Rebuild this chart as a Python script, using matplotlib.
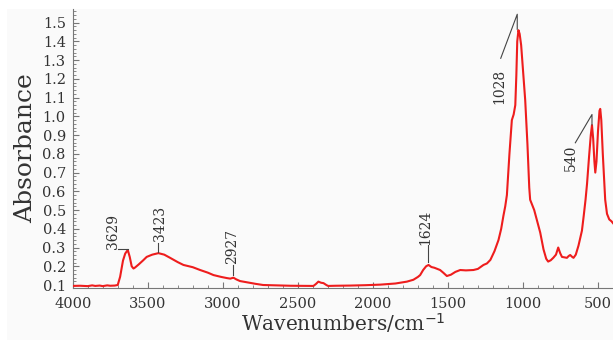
import numpy as np
import matplotlib.pyplot as plt
from matplotlib.patches import Rectangle
from matplotlib.ticker import MultipleLocator

# FTIR spectrum, wavenumber (cm-1) vs absorbance
wavenumber = [4000, 3950, 3900, 3870, 3850, 3820, 3800, 3770, 3750, 3720, 3700,
              3684, 3665, 3650, 3633, 3620, 3607, 3595, 3585, 3560, 3530, 3507,
              3470, 3429, 3390, 3351, 3300, 3262, 3200, 3151, 3100, 3062, 3010,
              2973, 2950, 2929, 2910, 2885, 2830, 2780, 2731, 2650, 2550, 2450,
              2396, 2380, 2363, 2345, 2329, 2310, 2298, 2250, 2150, 2050, 1950,
              1850, 1773, 1730, 1700, 1685, 1665, 1645, 1629, 1610, 1590, 1570,
              1552, 1530, 1507, 1480, 1450, 1418, 1380, 1330, 1300, 1263, 1240,
              1217, 1190, 1163, 1145, 1130, 1118, 1107, 1090, 1074, 1062, 1051,
              1044, 1038, 1030, 1022, 1012, 1000, 985, 970, 958, 952, 940, 925,
              905, 885, 863, 845, 832, 815, 798, 780, 765, 752, 740, 725, 707,
              695, 685, 672, 663, 648, 630, 607, 595, 583, 573, 560, 548, 540,
              532, 524, 518, 510, 500, 490, 485, 478, 468, 452, 440, 425, 410,
              400]
absorbance = [0.095, 0.096, 0.094, 0.098, 0.095, 0.097, 0.094, 0.098, 0.096, 0.097, 0.100,
              0.144, 0.230, 0.268, 0.287, 0.250, 0.200, 0.188, 0.193, 0.210, 0.232, 0.250,
              0.262, 0.270, 0.262, 0.245, 0.222, 0.207, 0.195, 0.180, 0.166, 0.153, 0.143,
              0.137, 0.134, 0.139, 0.130, 0.121, 0.113, 0.106, 0.100, 0.098, 0.096, 0.095,
              0.095, 0.105, 0.118, 0.112, 0.110, 0.100, 0.095, 0.096, 0.097, 0.099, 0.102,
              0.108, 0.118, 0.128, 0.143, 0.153, 0.180, 0.200, 0.207, 0.196, 0.192, 0.186,
              0.180, 0.165, 0.148, 0.155, 0.170, 0.180, 0.178, 0.180, 0.186, 0.207, 0.215,
              0.234, 0.280, 0.340, 0.400, 0.470, 0.520, 0.580, 0.800, 0.980, 1.010, 1.060,
              1.220, 1.400, 1.460, 1.440, 1.380, 1.250, 1.087, 0.850, 0.620, 0.555, 0.530, 0.500,
              0.440, 0.380, 0.290, 0.240, 0.225, 0.232, 0.245, 0.262, 0.300, 0.270, 0.250, 0.248, 0.245,
              0.255, 0.260, 0.250, 0.245, 0.262, 0.310, 0.390, 0.470, 0.555, 0.640, 0.780, 0.900, 0.953,
              0.880, 0.760, 0.700, 0.760, 0.920, 1.030, 1.040, 0.980, 0.800, 0.555, 0.480, 0.450, 0.440,
              0.430]

# peak labels: value, text position (wavenumber, absorbance), leader line path
peak_labels = ["3629", "3423", "2927", "1624", "1028", "540"]
label_pos = [(3731, 0.383), (3417, 0.426), (2940, 0.306), (1651, 0.407), (1158, 1.16), (680, 0.779)]
leaders = [
    ([3697, 3631], [0.293, 0.293]),
    ([3431, 3431], [0.325, 0.277]),
    ([2931, 2931], [0.207, 0.153]),
    ([1631, 1631], [0.314, 0.223]),
    ([1148, 1038, 1038], [1.31, 1.545, 1.465]),
    ([651, 540, 540], [0.859, 1.01, 0.955]),
]

plt.rcParams['font.family'] = 'DejaVu Serif'
text_col = '#333333'
axis_col = '#777777'

fig = plt.figure(figsize=(6.13, 3.40), dpi=100)
fig.patches.append(Rectangle((7 / 613, 0), 1, 1 - 9 / 340, transform=fig.transFigure,
                             facecolor='#fafafa', edgecolor='none', zorder=-10))
ax = fig.add_axes([72.7 / 613, 1 - 287.7 / 340, 1 - 72.7 / 613, (287.7 - 9) / 340])
ax.patch.set_visible(False)

ax.plot(wavenumber, absorbance, color='#ee1d1d', lw=1.5, zorder=3)

for lab, (tx, ty), (lx, ly) in zip(peak_labels, label_pos, leaders):
    ax.text(tx, ty, lab, rotation=90, ha='center', va='center', fontsize=10, color=text_col)
    ax.plot(lx, ly, color='#444444', lw=0.8, zorder=4)

ax.set_xlim(4000, 400)
ax.set_ylim(0.0856, 1.573)
ax.xaxis.set_major_locator(MultipleLocator(500))
ax.xaxis.set_minor_locator(MultipleLocator(100))
ax.yaxis.set_minor_locator(MultipleLocator(0.02))
ax.set_yticks(np.arange(0.1, 1.51, 0.1))
ax.set_yticklabels([f"{v:.1f}" for v in np.arange(0.1, 1.51, 0.1)])

for s in ['top', 'right']:
    ax.spines[s].set_visible(False)
for s in ['left', 'bottom']:
    ax.spines[s].set_color(axis_col)
    ax.spines[s].set_linewidth(0.8)

ax.tick_params(which='major', direction='in', length=4, width=0.8, color=axis_col,
               labelsize=10.5, labelcolor=text_col)
ax.tick_params(which='minor', direction='in', length=2, width=0.6, color=axis_col)
ax.tick_params(axis='x', pad=7)
ax.tick_params(axis='y', pad=5)

ax.set_ylabel('Absorbance', fontsize=18, color=text_col, labelpad=4)
ax.set_xlabel(r'Wavenumbers/cm$^{-1}$', fontsize=14.5, color=text_col, labelpad=0)

fig.savefig('out.png', dpi=100)
